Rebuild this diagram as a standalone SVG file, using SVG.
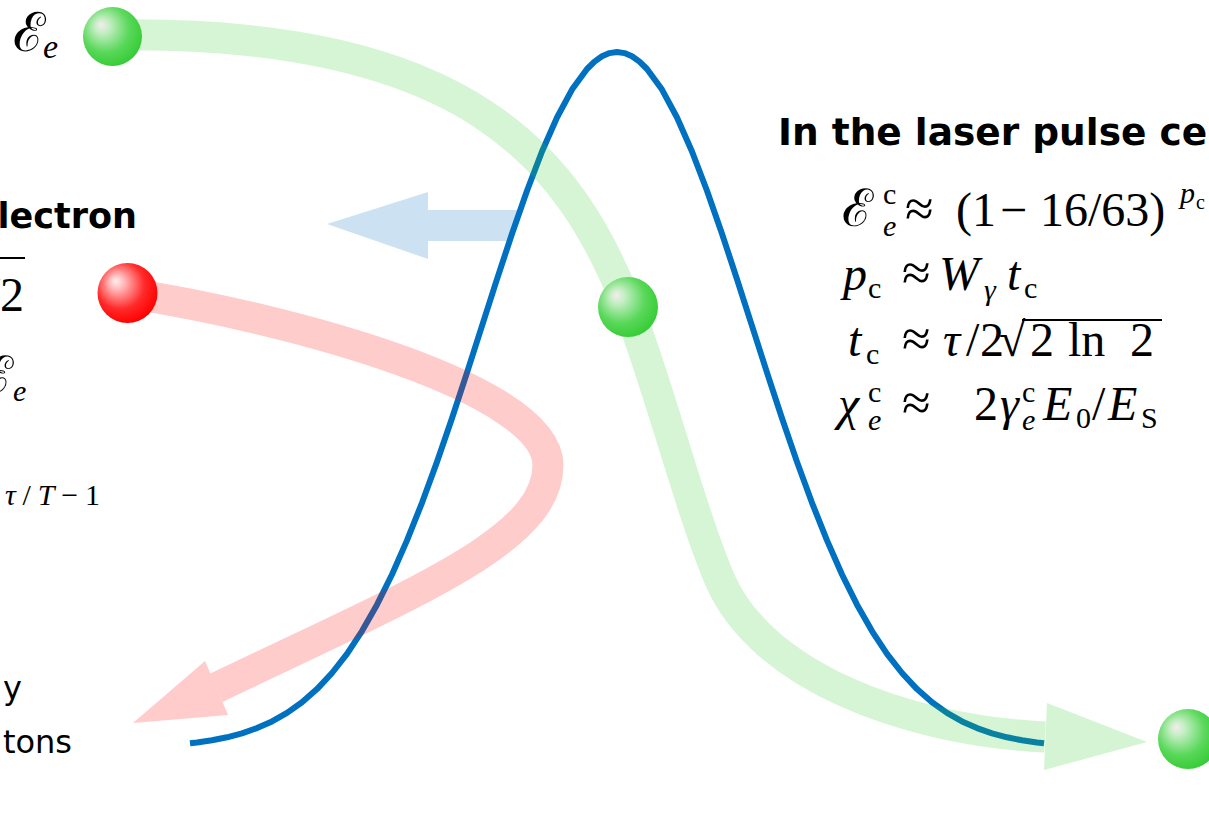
<svg xmlns="http://www.w3.org/2000/svg" width="1209" height="825" viewBox="0 0 1209 825">
<style>
.m{font-family:"Liberation Serif","DejaVu Serif",serif;font-size:48px;fill:#000}
.it{font-style:italic}
.s{font-size:30px}
.ap{font-size:52px}
.hd{font-family:"DejaVu Sans",Verdana,sans-serif;font-weight:bold;font-size:37.5px;fill:#000}
.tx{font-family:"DejaVu Sans",Verdana,sans-serif;font-size:32px;fill:#000}
.pulse{fill:none;stroke:#0070C0;stroke-width:6;stroke-linejoin:round;stroke-linecap:butt}
</style>
<defs>
<radialGradient id="gG" cx="0.42" cy="0.4" r="0.62" fx="0.3" fy="0.3">
<stop offset="0" stop-color="#F6ECEC"/>
<stop offset="0.2" stop-color="#C4EEC4"/>
<stop offset="0.65" stop-color="#5AD85A"/>
<stop offset="1" stop-color="#36CC36"/>
</radialGradient>
<radialGradient id="gR" cx="0.42" cy="0.4" r="0.62" fx="0.3" fy="0.3">
<stop offset="0" stop-color="#FFF0F0"/>
<stop offset="0.2" stop-color="#FFB8B8"/>
<stop offset="0.65" stop-color="#FF2A2A"/>
<stop offset="1" stop-color="#FF0000"/>
</radialGradient>
</defs>
<rect width="1209" height="825" fill="#fff"/>

<g id="pulse">
<polyline class="pulse" points="190,743.3 197,742.5 212,740.3 227,737.3 242,733.3 257,728.1 272,721.4 287,712.9 302,702.3 317,689.1 332,673 347,653.8 362,631.1 377,604.7 392,574.5 407,540.4 422,502.8 437,461.9 452,418.2 467,372.6 482,325.9 497,279.2 512,233.7 527,190.7 542,151.5 557,117.5 572,89.6 587,69 594.5,61.6 602,56.3 609.5,53.1 617,52 624.5,53.1 632,56.3 639.5,61.6 647,69 662,89.6 677,117.5 692,151.5 707,190.7 722,233.7 737,279.2 752,325.9 767,372.6 782,418.2 797,461.9 812,502.8 827,540.4 842,574.5 857,604.7 872,631.1 887,653.8 902,673 917,689.1 932,702.3 947,712.9 962,721.4 977,728.1 992,733.3 1007,737.3 1022,740.3 1037,742.5 1044,743.3"/>
</g>

<g id="connectors">
<g id="arrow-blue" opacity="0.2">
<polygon points="327,224 428,192 428,210 518,210 507,241 428,241 428,259" fill="#0070C0"/>
</g>
<g id="arrow-red" opacity="0.2">
<path d="M127,293 C300,320 548,390 548,465 C548,540 420,590 216,688" fill="none" stroke="#FF0000" stroke-width="31"/>
<polygon points="205,661 228,715 133,723" fill="#FF0000"/>
</g>
<g id="arrow-green" opacity="0.2">
<path d="M113,35 C470,30 570,160 628,307 C658,383 690,510 720,580 C760,673 900,730 1045,737" fill="none" stroke="#2DCD2D" stroke-width="31"/>
<polygon points="1047,703 1044,770 1147,742" fill="#2DCD2D"/>
</g>
</g>

<g id="ball-in"><circle cx="112.5" cy="36.5" r="29.5" fill="url(#gG)"/></g>
<g id="ball-red"><circle cx="127.5" cy="293" r="30" fill="url(#gR)"/></g>
<g id="ball-center"><circle cx="628" cy="307" r="30" fill="url(#gG)"/></g>
<g id="ball-out"><circle cx="1188" cy="739" r="30" fill="url(#gG)"/></g>

<g id="label-in">
<text class="m" x="13" y="51" style="font-size:54px">ℰ</text>
<text class="m it" x="43" y="58" style="font-size:34px">e</text>
</g>

<g id="left-text">
<text class="hd" x="137" y="228" text-anchor="end" style="font-size:35px">lectron</text>
<line x1="0" y1="258" x2="25" y2="258" stroke="#000" stroke-width="2"/>
<text class="m" x="24" y="311" text-anchor="end">/2</text>
<text class="m" x="13" y="393" text-anchor="end" style="font-size:52px">ℰ</text>
<text class="m it s" x="13" y="401">e</text>
<text class="m" x="5" y="505" style="font-size:30px" textLength="95" lengthAdjust="spacing"><tspan class="it">τ</tspan>/<tspan class="it">T</tspan>−1</text>
<text class="tx" x="22" y="699" text-anchor="end">y</text>
<text class="tx" x="72" y="753" text-anchor="end">tons</text>
</g>

<g id="right-text">
<text class="hd" x="778" y="145">In the laser pulse ce</text>
<g id="eq1">
<text class="m" x="842" y="226" style="font-size:52px">ℰ</text>
<text class="m s" x="883" y="204">c</text>
<text class="m it s" x="883" y="236">e</text>
<text class="m ap" x="905" y="226">≈</text>
<text class="m" x="956" y="226">(1</text>
<text class="m" x="1000" y="226">−</text>
<text class="m" x="1040" y="226">16/63)</text>
<text class="m it s" x="1180" y="203">p</text>
<text class="m" x="1196" y="209" style="font-size:20px">c</text>
</g>
<g id="eq2">
<text class="m it" x="843" y="290">p</text>
<text class="m s" x="868" y="298">c</text>
<text class="m ap" x="902" y="290">≈</text>
<text class="m it" x="939" y="290">W</text>
<text class="m it s" x="984" y="300">γ</text>
<text class="m it" x="1007" y="290">t</text>
<text class="m s" x="1024" y="298">c</text>
</g>
<g id="eq3">
<text class="m it" x="848" y="356">t</text>
<text class="m s" x="866" y="364">c</text>
<text class="m ap" x="902" y="356">≈</text>
<text class="m it" x="943" y="356">τ</text>
<text class="m" x="966" y="356">/</text>
<text class="m" x="980" y="356">2</text>
<text class="m" x="999" y="356">√</text>
<line x1="1022" y1="320" x2="1162" y2="320" stroke="#000" stroke-width="2"/>
<text class="m" x="1030" y="356">2</text>
<text class="m" x="1068" y="356">ln</text>
<text class="m" x="1130" y="356">2</text>
</g>
<g id="eq4">
<text class="m it" x="838" y="420">χ</text>
<text class="m s" x="868" y="402">c</text>
<text class="m it s" x="868" y="430">e</text>
<text class="m ap" x="902" y="420">≈</text>
<text class="m" x="974" y="420">2</text>
<text class="m it" x="1000" y="420">γ</text>
<text class="m s" x="1022" y="402">c</text>
<text class="m it s" x="1022" y="430">e</text>
<text class="m it" x="1043" y="420">E</text>
<text class="m s" x="1076" y="428">0</text>
<text class="m" x="1092" y="420">/</text>
<text class="m it" x="1108" y="420">E</text>
<text class="m s" x="1141" y="428">S</text>
</g>
</g>
</svg>
